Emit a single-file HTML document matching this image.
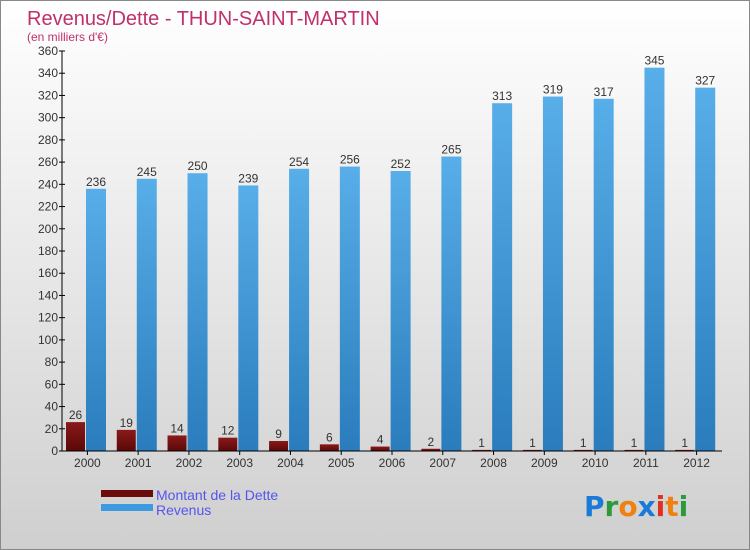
<!DOCTYPE html>
<html><head><meta charset="utf-8"><style>
body{margin:0}
#c{width:750px;height:550px;position:relative;background:linear-gradient(#ffffff,#cfcfcf);box-sizing:border-box;border:1px solid #888;font-family:"Liberation Sans",sans-serif;overflow:hidden}
</style></head><body>
<div id="c">
<svg id="s" width="750" height="550" style="position:absolute;left:0;top:0">
<text x="26" y="24" font-size="20" fill="#c0306a">Revenus/Dette - THUN-SAINT-MARTIN</text>
<text x="26" y="40" font-size="12" fill="#c0306a">(en milliers d'€)</text>
<g>
<rect x="100" y="489" width="52" height="7" fill="#6b0d0d"/>
<text x="155" y="499" font-size="14" fill="#5555ee">Montant de la Dette</text>
<rect x="100" y="503" width="52" height="7" fill="#3d9ae0"/>
<text x="155" y="514" font-size="14" fill="#5555ee">Revenus</text>
</g>
<g font-size="28" font-family="DejaVu Sans, sans-serif" font-weight="bold">
<text x="583" y="515"><tspan fill="#1a7ad8">P</tspan><tspan fill="#2a9a3a">r</tspan><tspan fill="#f08010">o</tspan><tspan fill="#1a7ad8">x</tspan><tspan fill="#e03020">i</tspan><tspan fill="#f08010">t</tspan><tspan fill="#2a9a3a">i</tspan></text>
</g>
</svg>
</div>
<script>
const years=["2000","2001","2002","2003","2004","2005","2006","2007","2008","2009","2010","2011","2012"];
const dette=[26,19,14,12,9,6,4,2,1,1,1,1,1];
const revenus=[236,245,250,239,254,256,252,265,313,319,317,345,327];
const yTicks=[0,20,40,60,80,100,120,140,160,180,200,220,240,260,280,300,320,340,360];
const NS="http://www.w3.org/2000/svg";
const svg=document.getElementById('s');
const x0=61,x1=721,yTop=50,yBot=450,yMax=360;
const gw=(x1-x0)/years.length;
const y=v=>yBot-v/yMax*(yBot-yTop);
function mk(t,a,p){const e=document.createElementNS(NS,t);for(const k in a)e.setAttribute(k,a[k]);(p||svg).appendChild(e);return e;}
const defs=mk('defs',{});
const g1=mk('linearGradient',{id:'gr',x1:0,y1:0,x2:0,y2:1},defs);
mk('stop',{offset:0,'stop-color':'#58aee8'},g1);mk('stop',{offset:1,'stop-color':'#2a7cbc'},g1);
const g2=mk('linearGradient',{id:'gd',x1:0,y1:0,x2:0,y2:1},defs);
mk('stop',{offset:0,'stop-color':'#8a1a1a'},g2);mk('stop',{offset:1,'stop-color':'#5a0808'},g2);
yTicks.forEach(t=>{
 const l=mk('line',{x1:x0-3,x2:x0+3,y1:y(t),y2:y(t),stroke:'#000'});
 
 const tx=mk('text',{x:x0-4,y:y(t)+4,'text-anchor':'end','font-size':12,fill:'#333'});
 tx.textContent=t;
});
years.forEach((yr,i)=>{
 const gx=x0+i*gw;
 const bd=mk('rect',{x:gx+4,y:y(dette[i]),width:19,height:yBot-y(dette[i]),fill:'url(#gd)'});
 
 const br=mk('rect',{x:gx+24,y:y(revenus[i]),width:20,height:yBot-y(revenus[i]),fill:'url(#gr)'});
 
 const ld=mk('text',{x:gx+13.5,y:y(dette[i])-3,'text-anchor':'middle','font-size':12,fill:'#333'});
 ld.textContent=dette[i];
 const lr=mk('text',{x:gx+34,y:y(revenus[i])-3,'text-anchor':'middle','font-size':12,fill:'#333'});
 lr.textContent=revenus[i];
 const tk=mk('line',{x1:gx+gw/2,x2:gx+gw/2,y1:yBot,y2:yBot+4,stroke:'#000'});
 
 const xl=mk('text',{x:gx+gw/2,y:yBot+16,'text-anchor':'middle','font-size':12,fill:'#333'});
 xl.textContent=yr;
});
const ya=mk('line',{x1:x0,x2:x0,y1:yTop,y2:yBot,stroke:'#000'});

const xa=mk('line',{x1:x0,x2:x1,y1:yBot,y2:yBot,stroke:'#000'});

</script>
</body></html>
